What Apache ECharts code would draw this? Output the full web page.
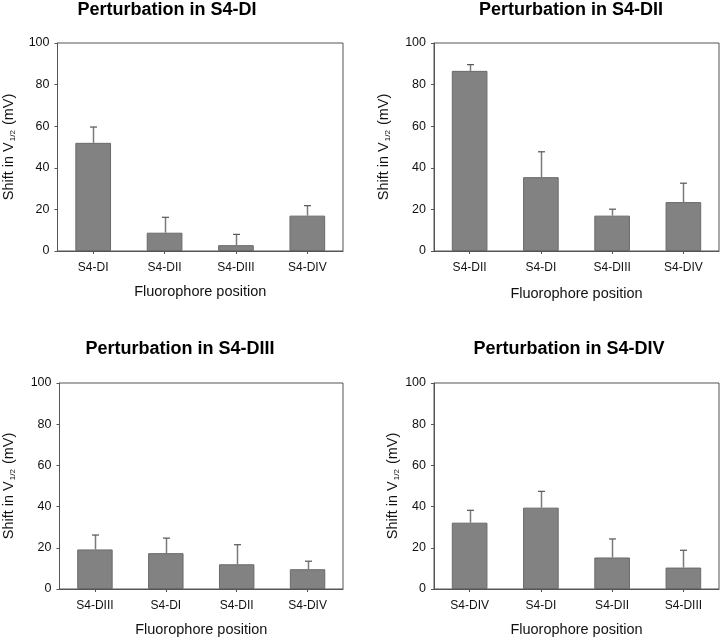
<!DOCTYPE html>
<html>
<head>
<meta charset="utf-8">
<script src="https://cdn.jsdelivr.net/npm/echarts@6/dist/echarts.min.js"></script>
<style>
html,body{margin:0;padding:0;background:#fff;}
#main{width:720px;height:638px;}
</style>
</head>
<body>
<div id="main"></div>
<script>
// ---- data ----
var titles = ['Perturbation in S4-DI', 'Perturbation in S4-DII', 'Perturbation in S4-DIII', 'Perturbation in S4-DIV'];
var cats1 = ['S4-DI', 'S4-DII', 'S4-DIII', 'S4-DIV'];
var vals1 = [52.0, 8.8, 2.8, 17.0];
var errs1 = [7.6, 7.4, 5.2, 4.8];
var cats2 = ['S4-DII', 'S4-DI', 'S4-DIII', 'S4-DIV'];
var vals2 = [86.6, 35.5, 17.0, 23.5];
var errs2 = [3.0, 12.2, 3.1, 9.1];
var cats3 = ['S4-DIII', 'S4-DI', 'S4-DII', 'S4-DIV'];
var vals3 = [19.2, 17.4, 12.0, 9.6];
var errs3 = [7.0, 7.3, 9.5, 3.9];
var cats4 = ['S4-DIV', 'S4-DI', 'S4-DII', 'S4-DIII'];
var vals4 = [32.2, 39.5, 15.3, 10.4];
var errs4 = [6.0, 7.9, 9.0, 8.4];
var yTicks = [0, 20, 40, 60, 80, 100];
var xName = 'Fluorophore position';

var panels = [
  {cats: cats1, vals: vals1, errs: errs1},
  {cats: cats2, vals: vals2, errs: errs2},
  {cats: cats3, vals: vals3, errs: errs3},
  {cats: cats4, vals: vals4, errs: errs4}
];

// ---- layout ----
var gridPos = [
  {left: 57, top: 43, width: 286, height: 208},
  {left: 434, top: 43, width: 285, height: 208},
  {left: 57, top: 383, width: 286, height: 208},
  {left: 434, top: 383, width: 285, height: 208}
];
var yNameGap = [41, 42, 43, 31];
var xNameGap = [33, 35, 33, 33];
var titlePos = [[167, 10], [571, 10], [180, 349], [569, 349]];

var FONT = 'Liberation Sans, Arial, sans-serif';
var AXIS = '#555555';
var TXT = '#111111';

var option = {
  animation: false,
  backgroundColor: '#ffffff',
  textStyle: {fontFamily: FONT},
  graphic: [],
  grid: [],
  xAxis: [],
  yAxis: [],
  series: []
};

panels.forEach(function (p, i) {
  option.graphic.push({
    type: 'text',
    x: titlePos[i][0],
    y: titlePos[i][1],
    style: {
      text: titles[i],
      fill: '#000',
      font: 'bold 18px ' + FONT,
      align: 'center',
      verticalAlign: 'middle'
    }
  });
  option.grid.push({
    left: gridPos[i].left, top: gridPos[i].top,
    width: gridPos[i].width, height: gridPos[i].height,
    show: true, borderColor: AXIS, borderWidth: 1, backgroundColor: 'transparent'
  });
  option.xAxis.push({
    type: 'category',
    gridIndex: i,
    data: p.cats,
    axisLine: {show: true, lineStyle: {color: AXIS, width: 1}},
    axisTick: {show: true, alignWithLabel: true, length: 3, lineStyle: {color: AXIS}},
    axisLabel: {color: TXT, fontSize: 12, margin: 11, fontFamily: FONT},
    splitLine: {show: false},
    name: xName,
    nameLocation: 'middle',
    nameGap: xNameGap[i],
    nameTextStyle: {color: TXT, fontSize: 14.5, fontFamily: FONT}
  });
  option.yAxis.push({
    type: 'value',
    gridIndex: i,
    min: yTicks[0],
    max: yTicks[yTicks.length - 1],
    interval: yTicks[1] - yTicks[0],
    axisLine: {show: true, lineStyle: {color: AXIS, width: 1}},
    axisTick: {show: true, length: 3, lineStyle: {color: AXIS}},
    axisLabel: {color: TXT, fontSize: 12.5, margin: 8, fontFamily: FONT},
    splitLine: {show: false},
    name: '{a|Shift in V}{b|1/2}{a| (mV)}',
    nameLocation: 'middle',
    nameRotate: 90,
    nameGap: yNameGap[i],
    nameTextStyle: {
      color: TXT,
      rich: {
        a: {fontSize: 14.5, fontFamily: FONT, color: TXT, lineHeight: 16},
        b: {fontSize: 8, fontFamily: FONT, color: TXT, lineHeight: 16, verticalAlign: 'bottom', padding: [0, 1, 0, 1]}
      }
    }
  });
  option.series.push({
    type: 'bar',
    xAxisIndex: i,
    yAxisIndex: i,
    data: p.vals,
    barWidth: '50%',
    itemStyle: {color: '#828282', borderColor: '#6a6a6a', borderWidth: 1},
    z: 2
  });
  var errData = p.vals.map(function (v, k) { return [k, v, v + p.errs[k]]; });
  option.series.push({
    type: 'custom',
    xAxisIndex: i,
    yAxisIndex: i,
    data: errData,
    z: 3,
    renderItem: function (params, api) {
      var base = api.coord([api.value(0), api.value(1)]);
      var top = api.coord([api.value(0), api.value(2)]);
      var x = Math.round(base[0]) + 0.5;
      return {
        type: 'group',
        children: [
          {type: 'line', shape: {x1: x, y1: base[1], x2: x, y2: top[1]},
           style: {stroke: '#7a7a7a', lineWidth: 1.5}},
          {type: 'line', shape: {x1: x - 3.5, y1: top[1], x2: x + 3.5, y2: top[1]},
           style: {stroke: '#555555', lineWidth: 1.2}}
        ]
      };
    }
  });
});

var chart = echarts.init(document.getElementById('main'), null, {renderer: 'canvas'});
chart.setOption(option);
</script>
</body>
</html>
